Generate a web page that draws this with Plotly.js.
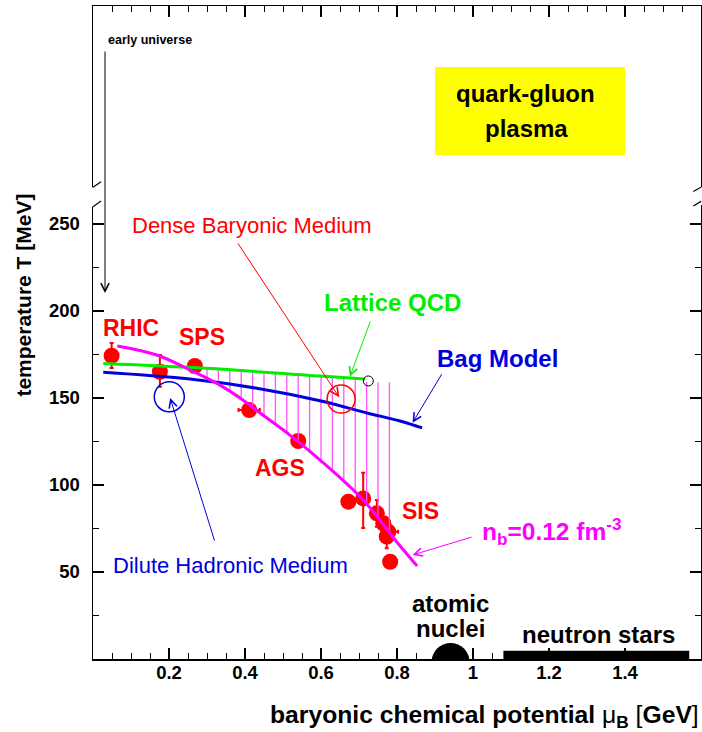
<!DOCTYPE html>
<html>
<head>
<meta charset="utf-8">
<script src="https://cdn.plot.ly/plotly-3.0.1.min.js"></script>
<style>html,body{margin:0;padding:0;background:#fff;}</style>
</head>
<body>
<div id="chart" style="width:702px;height:732px;"></div>
<script>
// ---------- data ----------
// chemical freeze-out points (mu_B [GeV], T [MeV])
const pointMu = [0.049, 0.176, 0.268, 0.411, 0.540, 0.672, 0.711, 0.747, 0.764, 0.777, 0.773, 0.782];
const pointT  = [174.3, 165.1, 168.4, 143.1, 125.3, 90.4, 92.3, 83.7, 78.0, 73.2, 70.3, 55.9];
const pointErrTplus  = [7.3, 9.6, 0, 0, 0, 0, 14.7, 7.7, 0, 6.6, 0, 0];
const pointErrTminus = [7.1, 8.6, 0, 0, 0, 0, 17.0, 7.7, 0, 6.6, 6.6, 0];
const pointErrMuPlus  = [0, 0, 0, 0.028, 0, 0, 0, 0, 0, 0.026, 0, 0];
const pointErrMuMinus = [0, 0, 0, 0.028, 0, 0, 0, 0, 0, 0, 0, 0];

// Lattice QCD line
const latticeMu = [0.027, 0.299, 0.597, 0.716];
const latticeT  = [169.9, 167.1, 162.6, 160.9];
// Lattice end point
const latticeEndMu = [0.7245];
const latticeEndT  = [159.8];

// Bag model line
const bagMu = [0.027, 0.255, 0.431, 0.597, 0.721, 0.808, 0.866];
const bagT  = [164.8, 160.9, 155.6, 148.4, 141.4, 136.8, 132.8];

// n_b = 0.12 fm^-3 line
const nbMu = [0.064, 0.168, 0.255, 0.326, 0.387, 0.447, 0.518, 0.597, 0.711, 0.799, 0.853];
const nbT  = [179.9, 174.7, 166.1, 158.4, 150.0, 140.2, 128.7, 114.5, 91.4, 67.4, 53.4];

// hatching between n_b line and lattice line
const hatchMu     = [0.30,0.33,0.36,0.39,0.42,0.45,0.48,0.51,0.54,0.57,0.60,0.63,0.66,0.69,0.72,0.75,0.78];
const hatchTop    = [167.1,166.6,166.2,165.8,165.3,164.9,164.4,164.0,163.5,163.0,162.6,162.1,161.7,161.2,159.3,159.0,159.0];
const hatchBottom = [161.2,157.8,153.7,149.5,144.6,139.7,134.9,130.0,124.7,119.4,113.9,107.8,101.7,95.7,88.9,80.8,72.6];

// marker circles for media
const denseMu = [0.653], denseT = [149.4];
const diluteMu = [0.2008], diluteT = [150.7];

// atomic nuclei and neutron stars
const nucleiMu = [0.941], nucleiT = [-1.7];
const neutronMu = [1.080, 1.569], neutronT = [0, 4.8];

// quark-gluon plasma box
const qgpMu = [0.90, 1.40], qgpT = [289.7, 340.2];

// ticks
const xTickVals = [0.2, 0.4, 0.6, 0.8, 1.0, 1.2, 1.4];
const xTickText = ['0.2', '0.4', '0.6', '0.8', '1', '1.2', '1.4'];
const yTickVals = [50, 100, 150, 200, 250];
const yTickText = ['50', '100', '150', '200', '250'];
const yMinorVals = [25, 75, 125, 175, 225];

// ---------- drawing ----------
const FONT = 'Arial, "Liberation Sans", Helvetica, sans-serif';
const RED = '#ff0000', GREEN = '#00ee00', BLUE = '#0000dd', MAG = '#ff00ff';

const hx = [], hy = [];
for (let i = 0; i < hatchMu.length; i++) {
  hx.push(hatchMu[i], hatchMu[i], null);
  hy.push(hatchBottom[i], hatchTop[i], null);
}

const traces = [
  {x: pointMu, y: pointT, type: 'scatter', mode: 'markers',
   marker: {color: RED, size: 16},
   error_y: {type: 'data', symmetric: false, array: pointErrTplus, arrayminus: pointErrTminus,
             color: RED, thickness: 2, width: 2},
   error_x: {type: 'data', symmetric: false, array: pointErrMuPlus, arrayminus: pointErrMuMinus,
             color: RED, thickness: 2, width: 2}},
  {x: hx, y: hy, type: 'scatter', mode: 'lines', line: {color: '#ff55ff', width: 1.3}},
  {x: latticeMu, y: latticeT, type: 'scatter', mode: 'lines', line: {color: GREEN, width: 3, shape: 'spline'}},
  {x: bagMu, y: bagT, type: 'scatter', mode: 'lines', line: {color: BLUE, width: 3, shape: 'spline'}},
  {x: nbMu, y: nbT, type: 'scatter', mode: 'lines', line: {color: MAG, width: 3, shape: 'spline'}},
  {x: latticeEndMu, y: latticeEndT, type: 'scatter', mode: 'markers',
   marker: {symbol: 'circle-open', size: 10, color: 'black', line: {width: 1}}},
  {x: denseMu, y: denseT, type: 'scatter', mode: 'markers',
   marker: {symbol: 'circle-open', size: 28, color: RED, line: {width: 1.5}}},
  {x: diluteMu, y: diluteT, type: 'scatter', mode: 'markers',
   marker: {symbol: 'circle-open', size: 30, color: BLUE, line: {width: 1.5}}},
  {x: nucleiMu, y: nucleiT, type: 'scatter', mode: 'markers',
   marker: {symbol: 'circle', size: 38, color: 'black'}}
];

function txt(x, y, text, size, color, bold) {
  return {xref: 'x', yref: 'y', x: x, y: y, text: bold ? '<b>' + text + '</b>' : text,
          showarrow: false, font: {family: FONT, size: size, color: color},
          xanchor: 'center', yanchor: 'middle'};
}
function arrow(x, y, ax, ay, color) {
  return {xref: 'x', yref: 'y', axref: 'x', ayref: 'y', x: x, y: y, ax: ax, ay: ay, text: '',
          showarrow: true, arrowhead: 5, arrowsize: 1.6, arrowwidth: 1, arrowcolor: color,
          standoff: 0, startstandoff: 0};
}

const annotations = [
  txt(0.151, 355.5, 'early universe', 12.5, 'black', true),
  txt(1.137, 325.1, 'quark-gluon', 24, 'black', true),
  txt(1.141, 305.0, 'plasma', 24, 'black', true),
  txt(0.101, 190.0, 'RHIC', 23, RED, true),
  txt(0.286, 185.1, 'SPS', 23, RED, true),
  txt(0.493, 109.5, 'AGS', 23, RED, true),
  txt(0.862, 85.2, 'SIS', 23, RED, true),
  txt(0.787, 204.9, 'Lattice QCD', 24, GREEN, true),
  txt(1.064, 172.5, 'Bag Model', 24, BLUE, true),
  txt(0.418, 249.1, 'Dense Baryonic Medium', 22, RED, false),
  txt(0.362, 54.0, 'Dilute Hadronic Medium', 22, BLUE, false),
  txt(1.207, 73.5, 'n<sub>b</sub>=0.12 fm<sup>-3</sup>', 24.5, MAG, true),
  txt(0.940, 32.0, 'atomic', 24, 'black', true),
  txt(0.940, 17.6, 'nuclei', 24, 'black', true),
  txt(1.330, 13.9, 'neutron stars', 24, 'black', true),
  arrow(0.0316, 210.3, 0.0316, 350, 'black'),
  arrow(0.648, 150.4, 0.379, 239.7, RED),
  arrow(0.676, 162.2, 0.731, 194.8, GREEN),
  arrow(0.841, 135.8, 0.920, 164.5, BLUE),
  arrow(0.203, 150.0, 0.321, 67.2, BLUE),
  arrow(0.841, 59.8, 1.000, 70.3, MAG),
  {xref: 'paper', yref: 'paper', x: -0.1146, y: 0.557, textangle: -90, showarrow: false,
   text: '<b>temperature T [MeV]</b>', font: {family: FONT, size: 21, color: 'black'},
   xanchor: 'center', yanchor: 'middle'},
  {xref: 'paper', yref: 'paper', x: 1.0, y: -0.0873, showarrow: false,
   text: '<b>baryonic chemical potential </b>\u03bc<sub><b>B</b></sub> [<b>GeV</b>]',
   font: {family: FONT, size: 24.7, color: 'black'}, xanchor: 'right', yanchor: 'middle'}
];

const shapes = [
  {type: 'rect', xref: 'x', yref: 'y', x0: qgpMu[0], x1: qgpMu[1], y0: qgpT[0], y1: qgpT[1],
   fillcolor: '#ffff00', line: {width: 0}, layer: 'below'},
  {type: 'rect', xref: 'x', yref: 'y', x0: neutronMu[0], x1: neutronMu[1], y0: neutronT[0], y1: neutronT[1],
   fillcolor: 'black', line: {width: 0}, layer: 'above'},
  // axis break: white gaps
  {type: 'rect', xref: 'paper', yref: 'paper', x0: -0.01, x1: 0.012, y0: 0.6927, y1: 0.7224,
   fillcolor: 'white', line: {width: 0}, layer: 'above'},
  {type: 'rect', xref: 'paper', yref: 'paper', x0: 0.988, x1: 1.01, y0: 0.6952, y1: 0.7224,
   fillcolor: 'white', line: {width: 0}, layer: 'above'},
  // slanted break marks
  {type: 'line', xref: 'paper', yref: 'paper', x0: 0.0, y0: 0.7224, x1: 0.0132, y1: 0.731, line: {color: 'black', width: 1.2}, layer: 'above'},
  {type: 'line', xref: 'paper', yref: 'paper', x0: 0.0, y0: 0.6927, x1: 0.0132, y1: 0.7014, line: {color: 'black', width: 1.2}, layer: 'above'},
  {type: 'line', xref: 'paper', yref: 'paper', x0: 0.9874, y0: 0.716, x1: 1.0, y1: 0.7224, line: {color: 'black', width: 1.2}, layer: 'above'},
  {type: 'line', xref: 'paper', yref: 'paper', x0: 0.9874, y0: 0.6937, x1: 1.0, y1: 0.7008, line: {color: 'black', width: 1.2}, layer: 'above'}
];

const axisCommon = {
  ticks: 'inside', ticklen: 11, tickwidth: 1.2, tickcolor: 'black',
  showline: true, linewidth: 1.5, linecolor: 'black', mirror: 'ticks',
  showgrid: false, zeroline: false,
  tickfont: {family: FONT, size: 18.5, color: 'black'}
};

const layout = {
  width: 702, height: 732,
  margin: {l: 93, r: 1, t: 6, b: 73},
  paper_bgcolor: 'white', plot_bgcolor: 'white',
  showlegend: false,
  xaxis: Object.assign({}, axisCommon, {
    range: [0, 1.6], tickmode: 'array', tickvals: xTickVals,
    ticktext: xTickText.map(t => '<b>' + t + '</b>'),
    ticklabelstandoff: -4,
    minor: {dtick: 0.05, tick0: 0, ticks: 'inside', ticklen: 6, tickwidth: 1, tickcolor: 'black', showgrid: false}
  }),
  yaxis: Object.assign({}, axisCommon, {
    range: [0, 375.3], tickmode: 'array', tickvals: yTickVals,
    ticktext: yTickText.map(t => '<b>' + t + '</b>'),
    ticklabelstandoff: 8,
    minor: {tickmode: 'array', tickvals: yMinorVals, ticks: 'inside', ticklen: 6, tickwidth: 1, tickcolor: 'black', showgrid: false}
  }),
  annotations: annotations,
  shapes: shapes
};

Plotly.newPlot('chart', traces, layout, {displayModeBar: false, staticPlot: true});
</script>
</body>
</html>
